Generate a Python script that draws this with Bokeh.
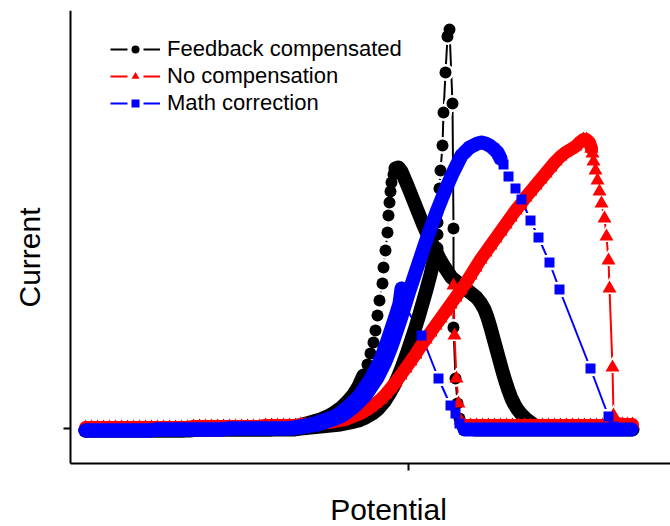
from math import pi
from bokeh.plotting import figure
from bokeh.models import Range1d, FixedTicker, Legend, LegendItem, Label
from bokeh.embed import file_html
from bokeh.resources import INLINE

# ---------------- data (potential / current, arbitrary units) ----------------
# Feedback compensated (black circles), scan split where points are dense / sparse
fb_seg1_x = [-323, -315, -307, -299, -291, -283, -275, -267, -259, -251, -243, -235, -227, -219,
             -211, -203, -195, -187, -179, -171, -163, -155, -147, -139, -131, -123, -115,
             -108, -98, -88, -78, -68, -58, -50, -43, -36, -30, -24, -19, -14, -10, -6, -2,
             2, 6, 10, 14, 18, 22, 25, 28]
fb_seg1_y = [-2, -2, -2, -2, -2, -2, -2, -2, -2, -2, -2, -2, -2, -2,
             -1, -1, -1, -1, -1, -1, -1, -1, -1, -1, -1, -1, -1,
             0, 1, 2, 3, 4, 6, 8, 11, 15, 20, 27, 35, 44, 53, 63, 74,
             86, 98, 111, 125, 139, 154, 167, 180]
fb_seg2_x = [28, 29, 29, 30, 31, 32, 34, 35, 37, 39, 41, 44, 45, 45, 47, 49, 51, 54, 58, 66]
fb_seg2_y = [180, 194, 206, 222, 240, 258, 283, 316, 356, 392, 399, 325, 200, 101, 50, 25, 10, 2, -1, -1]
fb_seg3_x = [66, 74, 82, 90, 98, 106, 114, 122, 130, 138, 146, 154, 162, 170, 178, 186, 194,
             202, 210, 218, 224, 216, 208, 200, 192, 184, 176, 168, 160, 152, 144, 136,
             130, 125, 121, 117, 113, 109, 106, 103, 100, 97, 94, 91, 88, 85, 82, 79, 76,
             72, 68, 63, 58, 53, 48, 43, 39, 35, 31, 27, 23, 19, 15, 11, 7, 3, -1, -4, -7,
             -10, -13]
fb_seg3_y = [-1, -1, -1, -1, -1, -1, -1, -1, -1, -1, -1, -1, -1, -1, -1, -1, -1,
             -1, -1, -1, -1, -1, -1, -1, -1, -1, -1, -1, -1, -1, -1, -1,
             1, 4, 7, 10, 14, 19, 24, 30, 38, 47, 57, 68, 79, 90, 101, 111, 119,
             126, 131, 135, 139, 143, 147, 151, 157, 163, 170, 178, 186, 194, 203, 213, 223,
             233, 243, 250, 257, 261, 260]
fb_seg4_x = [-13, -15, -17, -18, -19, -20, -21, -23, -25, -26, -29, -31, -33, -35, -38, -41, -45]
fb_seg4_y = [260, 254, 246, 237, 226, 213, 196, 178, 161, 145, 128, 113, 98, 86, 75, 64, 53]
fb_seg5_x = [-45, -50, -55, -61, -67, -74, -81, -88, -95, -102, -109, -116, -123, -131,
             -139, -147, -155, -163, -171, -179, -187, -195, -203, -211, -219, -227, -235,
             -243, -251, -259, -267, -275, -283, -291, -299, -307, -315, -323]
fb_seg5_y = [53, 42, 34, 27, 21, 16, 12, 9, 7, 5, 3, 2, 1, 0,
             -1, -1, -1, -1, -1, -1, -1, -1, -1, -1, -1, -2, -2,
             -2, -2, -2, -2, -2, -2, -2, -2, -2, -2, -2]

# No compensation (red triangles)
nc_seg1_x = [-323, -317, -311, -305, -299, -293, -287, -281, -275, -269, -263, -257, -251,
             -245, -239, -233, -227, -221, -215, -209, -203, -197, -191, -185, -179, -173,
             -167, -161, -155, -149, -143, -137, -131, -125, -119, -113,
             -108, -103, -98, -93, -88, -83, -78, -73, -68, -63, -58, -53, -48, -43, -38,
             -33, -28, -23, -18, -13, -8, -3, 2, 7, 12, 17, 22, 27, 32, 37, 42, 47, 52, 57,
             62, 67, 72, 77, 82, 87, 92, 97, 102, 107, 112, 117, 122, 127, 132, 137, 142,
             147, 152, 157, 162, 167, 171, 175, 178, 181, 183]
nc_seg1_y = [1, 1, 1, 1, 1, 1, 1, 1, 1, 1, 1, 1, 1, 1, 1, 1, 1, 1,
             2, 2, 2, 2, 2, 2, 2, 2, 2, 2, 2, 2, 3, 3, 3, 3, 3, 3,
             4, 4, 4, 5, 5, 6, 6, 7, 8, 9, 11, 13, 15, 18, 21, 25, 29, 34, 40, 46,
             53, 60, 67, 74, 82, 89, 96, 103, 110, 117, 124, 131, 138, 145, 153, 161,
             169, 176, 183, 190, 197, 204, 211, 218, 224, 231, 237, 243, 249, 255,
             261, 267, 272, 276, 279, 282, 286, 289, 289, 286, 280]
nc_seg2_x = [183, 184, 185, 187, 189, 191, 193, 196, 198, 200, 201, 204, 205, 209]
nc_seg2_y = [280, 275, 267, 258, 248, 237, 225, 210, 192, 168, 140, 61, 13, 5]
nc_seg3_x = [209, 214, 219, 224, 218, 212, 206, 200, 194, 188, 182, 176, 170, 164, 158,
             152, 146, 140, 134, 128, 122, 116, 110, 104, 98, 92, 86, 80, 74, 68, 62, 56]
nc_seg3_y = [5, 4, 4, 4, 3, 3, 3, 3, 3, 3, 3, 3, 3, 3, 3,
             3, 3, 3, 3, 3, 3, 3, 3, 3, 3, 3, 3, 3, 3, 3, 3, 3]
nc_seg4_x = [56, 52, 50, 48, 46, 45]
nc_seg4_y = [3, 8, 25, 50, 93, 143]

# Math correction (blue squares)
mc_seg1_x = [-323, -315, -307, -299, -291, -283, -275, -267, -259, -251, -243, -235, -227,
             -219, -211, -203, -195, -187, -179, -171, -163, -155, -147, -139, -131, -123, -115,
             -109, -103, -97, -91, -85, -79, -73, -68, -63, -58, -53, -48, -43, -39, -35, -31,
             -27, -23, -19, -15, -11, -7, -3, 1, 5, 9, 13, 17, 21, 25, 29, 33, 37, 41, 45,
             49, 53, 57, 61, 65, 69, 73, 77, 81, 85, 89, 92]
mc_seg1_y = [-2, -2, -2, -2, -2, -2, -2, -2, -2, -1, -1, -1, -1, -1, -1, -1, -1, -1,
             0, 0, 0, 0, 0, 0, 0, 0, 0,
             1, 2, 3, 4, 6, 8, 10, 12, 15, 19, 23, 28, 33, 39, 45, 51, 59, 67, 77, 88,
             100, 112, 125, 138, 150, 162, 174, 186, 197, 208, 219, 229, 239, 248, 257,
             265, 273, 277, 281, 283, 285, 286, 285, 283, 280, 276, 270]
mc_seg2_x = [92, 95, 100, 107, 113, 122, 130, 141, 151, 182, 200, 205, 211]
mc_seg2_y = [270, 264, 252, 240, 229, 208, 191, 166, 139, 60, 12, 2, -1]
mc_seg3_x = [211, 217, 223, 216, 208, 200, 192, 184, 176, 168, 160, 152, 144, 136, 128,
             120, 112, 104, 96, 88, 80, 72, 64, 56]
mc_seg3_y = [-1, -1, -1, -1, -1, -1, -1, -1, -1, -1, -1, -1, -1, -1, -1,
             -1, -1, -1, -1, -1, -1, -1, -1, -1]
mc_seg4_x = [56, 51, 47, 42, 30, 13, -4, -6, -7]
mc_seg4_y = [-1, 5, 15, 23, 50, 93, 124, 132, 140]
mc_seg5_x = [-7, -9, -13, -17, -21, -25, -29, -33, -37, -41, -45, -49, -54, -59, -64, -69,
             -74, -79, -85, -91, -97, -103, -109, -115,
             -123, -131, -139, -147, -155, -163, -171, -179, -187, -195, -203, -211, -219,
             -227, -235, -243, -251, -259, -267, -275, -283, -291, -299, -307, -315, -323]
mc_seg5_y = [140, 125, 112, 100, 88, 77, 67, 59, 51, 45, 39, 33, 28, 23, 19, 15,
             12, 10, 8, 6, 4, 3, 2, 1,
             0, 0, 0, 0, 0, 0, 0, 0, -1, -1, -1, -1, -1,
             -1, -1, -1, -1, -2, -2, -2, -2, -2, -2, -2, -2, -2]

series_labels = ["Feedback compensated", "No compensation", "Math correction"]
x_title = "Potential"
y_title = "Current"
x_ticks = [0]
y_ticks = [0]
x_axis_bounds = (-338, 262)
y_axis_bounds = (-35, 418)

# ---------------- figure ----------------
p = figure(width=670, height=526, output_backend="svg", toolbar_location=None,
           x_range=Range1d(-408, 262), y_range=Range1d(-98, 418),
           min_border_left=0, min_border_right=0, min_border_top=10, min_border_bottom=0)
p.outline_line_color = None
p.grid.visible = False
p.background_fill_color = "white"
p.border_fill_color = "white"

for ax in (p.xaxis[0], p.yaxis[0]):
    ax.axis_line_width = 2
    ax.axis_line_color = "black"
    ax.major_tick_line_width = 2
    ax.major_tick_line_color = "black"
    ax.major_tick_out = 7
    ax.major_tick_in = 0
    ax.minor_tick_line_color = None
    ax.major_label_text_color = None
    ax.major_label_text_font_size = "0px"
    ax.major_label_standoff = 0
p.xaxis.ticker = FixedTicker(ticks=x_ticks)
p.yaxis.ticker = FixedTicker(ticks=y_ticks)
p.xaxis.fixed_location = y_axis_bounds[0]
p.yaxis.fixed_location = x_axis_bounds[0]
p.xaxis.bounds = x_axis_bounds
p.yaxis.bounds = y_axis_bounds

series = [
    dict(color="black", marker="circle", size=12, band=14,
         dense=[(fb_seg1_x, fb_seg1_y), (fb_seg3_x, fb_seg3_y), (fb_seg5_x, fb_seg5_y)],
         sparse=[(fb_seg2_x, fb_seg2_y), (fb_seg4_x, fb_seg4_y)]),
    dict(color="red", marker="triangle", size=14, band=13,
         dense=[(nc_seg1_x, nc_seg1_y), (nc_seg3_x, nc_seg3_y)],
         sparse=[(nc_seg2_x, nc_seg2_y), (nc_seg4_x, nc_seg4_y)]),
    dict(color="blue", marker="square", size=10, band=14,
         dense=[(mc_seg1_x, mc_seg1_y), (mc_seg3_x, mc_seg3_y), (mc_seg5_x, mc_seg5_y)],
         sparse=[(mc_seg2_x, mc_seg2_y), (mc_seg4_x, mc_seg4_y)]),
]

# thin connecting lines where points are far apart
for s in series:
    for sx, sy in s["sparse"]:
        p.line(sx, sy, line_color=s["color"], line_width=2)
# white halos break the thin lines next to each symbol
for s in series:
    for sx, sy in s["sparse"]:
        p.scatter(sx, sy, marker=s["marker"], size=s["size"] + 5,
                  fill_color="white", line_color=None)
# dense runs of symbols + symbols, series by series
for s in series:
    for sx, sy in s["dense"]:
        p.line(sx, sy, line_color=s["color"], line_width=s["band"],
               line_join="round", line_cap="round")
    for sx, sy in s["dense"] + s["sparse"]:
        p.scatter(sx, sy, marker=s["marker"], size=s["size"],
                  fill_color=s["color"], line_color=None)

# legend glyphs (hidden in the plot, drawn only in the legend)
items = []
for s, lab in zip(series, series_labels):
    sx, sy = s["sparse"][0]
    lr = p.line(sx, sy, line_color=s["color"], line_width=2, line_dash="17 16", visible=False)
    mr = p.scatter(sx, sy, marker=s["marker"], size=8, fill_color=s["color"],
                   line_color=None, visible=False)
    items.append(LegendItem(label=lab, renderers=[lr, mr]))

legend = Legend(items=items, location=(110, 410), orientation="vertical",
                glyph_width=50, glyph_height=20, label_height=27, spacing=0,
                padding=0, margin=0, label_standoff=7,
                label_text_font="Liberation Sans", label_text_font_size="22px",
                label_text_color="black", inactive_fill_alpha=0,
                border_line_color=None, background_fill_alpha=0)
p.add_layout(legend)

# axis titles
p.add_layout(Label(x=388, y=17, x_units="screen", y_units="screen", text=x_title,
                   text_align="center", text_baseline="middle",
                   text_font="Liberation Sans", text_font_size="30px", text_color="black"))
p.add_layout(Label(x=29, y=269, x_units="screen", y_units="screen", text=y_title,
                   angle=pi / 2, text_align="center", text_baseline="middle",
                   text_font="Liberation Sans", text_font_size="30px", text_color="black"))

open("out.html", "w").write(file_html(p, INLINE))
